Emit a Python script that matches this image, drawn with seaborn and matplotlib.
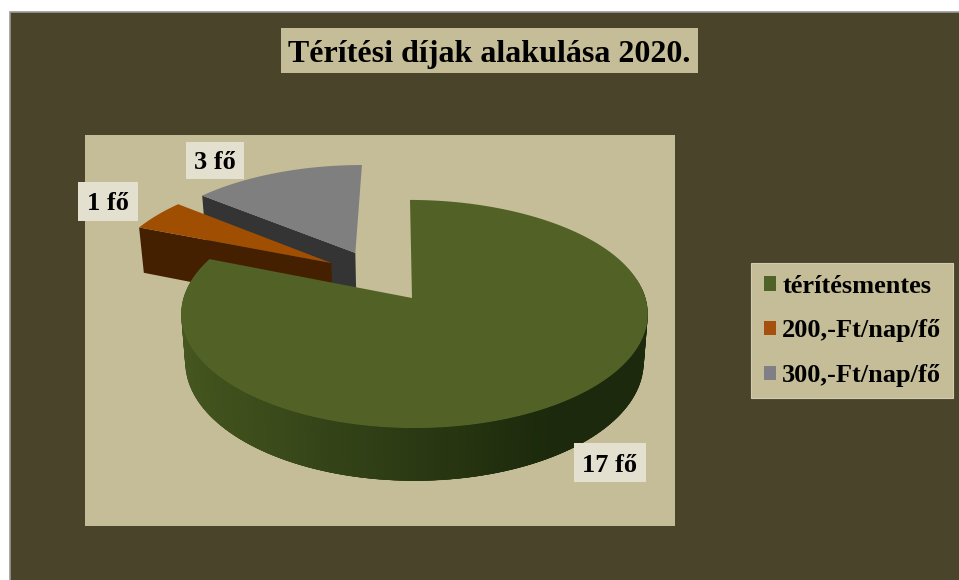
import numpy as np
import matplotlib
matplotlib.use("Agg")
import matplotlib.pyplot as plt
from matplotlib.patches import Patch, Rectangle
import seaborn as sns

# ---- data ----
categories = ["térítésmentes", "200,-Ft/nap/fő", "300,-Ft/nap/fő"]
counts = [17, 1, 3]
point_labels = ["17 fő", "1 fő", "3 fő"]
title = "Térítési díjak alakulása 2020."

# ---- style ----
top_colors = sns.color_palette(["#526227", "#a04f02", "#7f7f7f"])
legend_colors = ["#4f6228", "#a5500f", "#7f7f85"]
wall_colors = ["#3a4a1a", "#452000", "#343434"]
BG = "#4a442b"
TAN = "#c4bd97"
LABEL_BG = "#e3e0cf"

sns.set_theme(style="white")
plt.rcParams["font.family"] = ["Liberation Serif", "DejaVu Serif"]
plt.rcParams["font.weight"] = "bold"

fig = plt.figure(figsize=(9.59, 5.80), dpi=100, facecolor="white")
ax = fig.add_axes([0, 0, 1, 1])
ax.set_xlim(0, 959)
ax.set_ylim(580, 0)
ax.axis("off")

ax.add_patch(Rectangle((10, 12), 970, 590, fc=BG, ec="#9a9a96", lw=1.2, zorder=0))
ax.add_patch(Rectangle((85, 135), 590, 391, fc=TAN, ec="none", zorder=1))

# ---- projection of the pie ----
CX, CY = 412, 298
B, A, K = 231, 111.8, 0.14
B_LOW, A_LOW, DROP = 227, 116, 48


def project(u, v, low=False):
    d = 1 + K * v
    if low:
        return CX + B_LOW * u / d, CY + DROP - A_LOW * v / d
    return CX + B * u / d, CY - A * v / d


def uv(deg):
    r = np.radians(deg)
    return np.sin(r), np.cos(r)


def rim_offset(v):
    """small sideways drift of the large slice's rim"""
    return 2.5 - 4.5 * np.clip(v, 0, 1) ** 3


fractions = np.array(counts) / sum(counts)
starts = np.concatenate([[0], np.cumsum(fractions)[:-1]]) * 360
ends = np.cumsum(fractions) * 360
shifts = [(0, 0), (-0.365, 0.327), (-0.26, 0.427)]


def wedge_top(i):
    t = np.linspace(starts[i], ends[i], 200)
    u, v = uv(t)
    du, dv = shifts[i]
    x, y = project(np.r_[du, u + du], np.r_[dv, v + dv])
    if i == 0:
        x[1:] += rim_offset(v)
    return x, y


def side_quad(i, deg):
    """wall under the cut edge running from the wedge tip to the rim at deg"""
    du, dv = shifts[i]
    u, v = uv(deg)
    xa, ya = project(np.array([du, u + du]), np.array([dv, v + dv]))
    xb, yb = project(np.array([u + du, du]), np.array([v + dv, dv]), low=True)
    return np.r_[xa, xb], np.r_[ya, yb]


# grey slice
x, y = side_quad(2, starts[2])
ax.fill(x, y, color=wall_colors[2], lw=0, zorder=2)
x, y = wedge_top(2)
ax.fill(x, y, color=top_colors[2], lw=0, zorder=3)

# orange slice
x, y = side_quad(1, starts[1])
ax.fill(x, y, color=wall_colors[1], lw=0, zorder=4)
x, y = wedge_top(1)
ax.fill(x, y, color=top_colors[1], lw=0, zorder=5)

# green slice: shaded curved wall (strips overlap so no seams show), then top
edge_angles = np.linspace(80, starts[1], 120)
light = np.array(matplotlib.colors.to_rgb("#45561f"))
dark = np.array(matplotlib.colors.to_rgb("#1c290c"))
for j, a0 in enumerate(edge_angles[:-1]):
    a1 = edge_angles[min(j + 4, len(edge_angles) - 1)]
    u, v = uv(np.array([a0, a1]))
    xt, yt = project(u, v)
    xb, yb = project(u[::-1], v[::-1], low=True)
    xt = xt + rim_offset(v)
    xb = xb + rim_offset(v[::-1])
    # strips run from the right (dark) to the left (light)
    mix = np.clip((xt[0] - 180) / 469 / 0.8, 0, 1)
    c = light * (1 - mix) + dark * mix
    ax.fill(np.r_[xt, xb], np.r_[yt, yb], color=c, lw=0, zorder=6)
x, y = wedge_top(0)
ax.fill(x, y, color=top_colors[0], lw=0, zorder=7)

# ---- texts ----
ax.add_patch(Rectangle((281, 28), 417, 45, fc=TAN, ec="none", zorder=8))
ax.text(489.5, 62, title, ha="center", va="baseline", fontsize=23, color="black", zorder=9)

label_boxes = [(574, 443, 72, 39), (78, 182, 60, 39), (186, 142, 58, 37)]
label_base = [472, 210, 169]
for text, (bx, by, bw, bh), base in zip(point_labels, label_boxes, label_base):
    ax.add_patch(Rectangle((bx, by), bw, bh, fc=LABEL_BG, ec="none", zorder=8))
    ax.text(bx + bw / 2, base, text, ha="center", va="baseline", fontsize=19, color="black", zorder=9)

ax.add_patch(Rectangle((751, 263), 202, 135, fc=TAN, ec="#d2cdb0", lw=0.8, zorder=8))
handles = [Patch(fc=c, ec="none") for c in legend_colors]
leg = ax.legend(handles, categories, loc="center", bbox_to_anchor=(853 / 959, 1 - 331 / 580),
                frameon=False, fontsize=19, handlelength=0.45, handleheight=0.45,
                handletextpad=0.23, labelspacing=0.82, borderpad=0, borderaxespad=0)
leg.set_zorder(9)
for t in leg.get_texts():
    t.set_color("black")

fig.savefig("out.png", dpi=100, facecolor="white")
